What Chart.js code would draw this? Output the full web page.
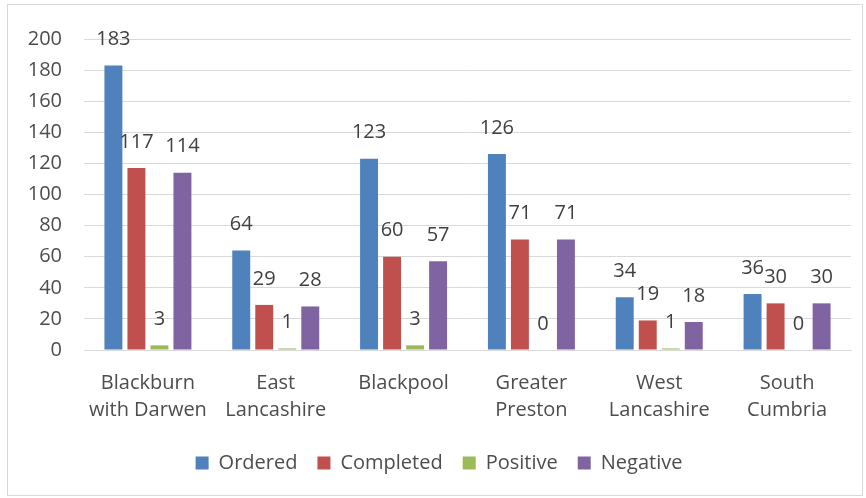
<!DOCTYPE html>
<html>
<head>
<meta charset="utf-8">
<script src="https://cdn.jsdelivr.net/npm/chart.js@4"></script>
<style>
  body { margin: 0; background: #fff; }
  #wrap {
    position: absolute; left: 7px; top: 4px;
    width: 854px; height: 490px;
    border: 1px solid #d9d9d9;
  }
</style>
</head>
<body>
<div id="wrap"><canvas id="chart" width="854" height="490"></canvas></div>
<script>
const categories = [
  ['Blackburn', 'with Darwen'],
  ['East', 'Lancashire'],
  'Blackpool',
  ['Greater', 'Preston'],
  ['West', 'Lancashire'],
  ['South', 'Cumbria']
];
const ordered = [183, 64, 123, 126, 34, 36];
const completed = [117, 29, 60, 71, 19, 30];
const positive = [3, 1, 3, 0, 1, 0];
const negative = [114, 28, 57, 71, 18, 30];
const yTicks = [0, 20, 40, 60, 80, 100, 120, 140, 160, 180, 200];

const FONT = "'Open Sans', sans-serif";

// value labels above each bar
const barLabels = {
  id: 'barLabels',
  afterDatasetsDraw(chart) {
    const ctx = chart.ctx;
    ctx.save();
    ctx.font = '20px ' + FONT;
    ctx.fillStyle = '#404040';
    ctx.textAlign = 'center';
    ctx.textBaseline = 'middle';
    chart.data.datasets.forEach((ds, i) => {
      chart.getDatasetMeta(i).data.forEach((bar, j) => {
        ctx.fillText(ds.data[j], bar.x, bar.y - 26);
      });
    });
    ctx.restore();
  }
};

new Chart(document.getElementById('chart').getContext('2d'), {
  type: 'bar',
  data: {
    labels: categories,
    datasets: [
      { label: 'Ordered', data: ordered, backgroundColor: '#4f81bd' },
      { label: 'Completed', data: completed, backgroundColor: '#c0504d' },
      { label: 'Positive', data: positive, backgroundColor: '#9bbb59' },
      { label: 'Negative', data: negative, backgroundColor: '#8064a2' }
    ]
  },
  options: {
    responsive: false,
    animation: false,
    categoryPercentage: 0.72,
    barPercentage: 0.78,
    layout: { padding: { top: 27, right: 11, bottom: 12, left: 19 } },
    plugins: {
      tooltip: { enabled: false },
      legend: {
        position: 'bottom',
        labels: {
          font: { family: FONT, size: 20 },
          color: '#4d4d4d',
          boxWidth: 13,
          boxHeight: 13,
          padding: 20
        }
      }
    },
    scales: {
      x: {
        grid: { display: false },
        border: { color: '#d9d9d9' },
        ticks: {
          font: { family: FONT, size: 20, lineHeight: 1.35 },
          color: '#4d4d4d',
          maxRotation: 0,
          autoSkip: false,
          padding: 12
        },
        afterFit(scale) { scale.height = 83; }
      },
      y: {
        min: 0,
        max: 200,
        afterBuildTicks(scale) { scale.ticks = yTicks.map(v => ({ value: v })); },
        grid: { color: '#d9d9d9', drawTicks: false },
        border: { display: false },
        ticks: {
          font: { family: FONT, size: 20 },
          color: '#4d4d4d',
          padding: 22
        },
        afterFit(scale) { scale.width = 57; }
      }
    }
  },
  plugins: [barLabels]
});
</script>
</body>
</html>
